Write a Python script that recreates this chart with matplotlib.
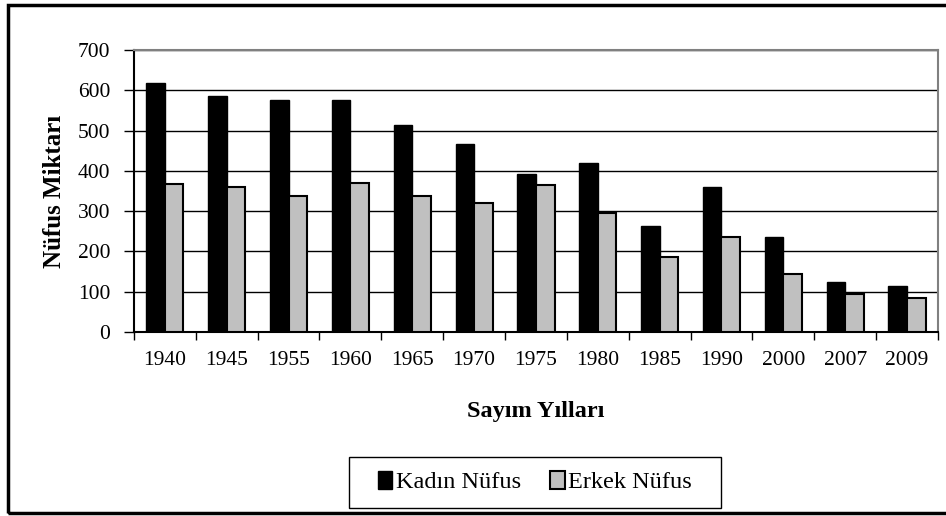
import numpy as np
import matplotlib
matplotlib.use("Agg")
import matplotlib.pyplot as plt
from matplotlib.patches import Rectangle

# data
years = ["1940", "1945", "1955", "1960", "1965", "1970", "1975",
         "1980", "1985", "1990", "2000", "2007", "2009"]
kadin = [617, 587, 576, 576, 515, 467, 391, 420, 262, 359, 237, 124, 114]
erkek = [367, 359, 338, 370, 338, 320, 365, 296, 186, 236, 143, 94, 84]

plt.rcParams["font.family"] = ["Liberation Serif", "DejaVu Serif"]

fig = plt.figure(figsize=(9.46, 5.16), dpi=100)
ax = fig.add_axes([0.1416, 0.3566, 0.8499, 0.5465])

x = np.arange(len(years))
w = 0.3
ax.bar(x - w / 2, kadin, w, color="black", edgecolor="black", linewidth=1,
       label="Kadın Nüfus", zorder=3)
ax.bar(x + w / 2, erkek, w, color="#c0c0c0", edgecolor="black", linewidth=1.5,
       label="Erkek Nüfus", zorder=3)

ax.set_xlim(-0.5, len(years) - 0.5)
ax.set_ylim(0, 700)
ax.set_yticks(range(0, 701, 100))
ax.yaxis.grid(True, color="black", linewidth=1, zorder=0)

# category labels centered, ticks between categories
ax.set_xticks(x)
ax.set_xticklabels(years)
ax.set_xticks(np.arange(-0.5, len(years)), minor=True)
ax.tick_params(axis="x", which="major", length=0, pad=14, labelsize=15.5)
ax.tick_params(axis="x", which="minor", length=6, width=1, direction="out")
ax.tick_params(axis="y", length=7, width=1, direction="out", pad=10, labelsize=15.5)

ax.spines["left"].set_color("black")
ax.spines["bottom"].set_color("black")
ax.spines["top"].set_color("#808080")
ax.spines["right"].set_color("#808080")
for s in ax.spines.values():
    s.set_linewidth(1.5)

ax.set_ylabel("Nüfus Miktarı", fontsize=18, fontweight="bold")
ax.yaxis.set_label_coords(-0.085, 0.5)
ax.set_xlabel("Sayım Yılları", fontsize=17.5, fontweight="bold")
ax.xaxis.set_label_coords(0.5, -0.245)

leg = fig.legend(loc="center", bbox_to_anchor=(0.5655, 0.066), ncol=2,
                 fontsize=17.5, frameon=False, handlelength=0.6,
                 handleheight=0.8, handletextpad=0.15, columnspacing=1.2)

# legend box
fig.patches.append(Rectangle((349 / 946, 8 / 516), 372 / 946, 51 / 516,
                             transform=fig.transFigure, fill=False,
                             edgecolor="black", linewidth=1))

# outer chart border
fig.patches.append(Rectangle((8 / 946, 3 / 516), 1.0, 508 / 516,
                             transform=fig.transFigure, fill=False,
                             edgecolor="black", linewidth=2.5))

fig.savefig("out.png", dpi=100)
